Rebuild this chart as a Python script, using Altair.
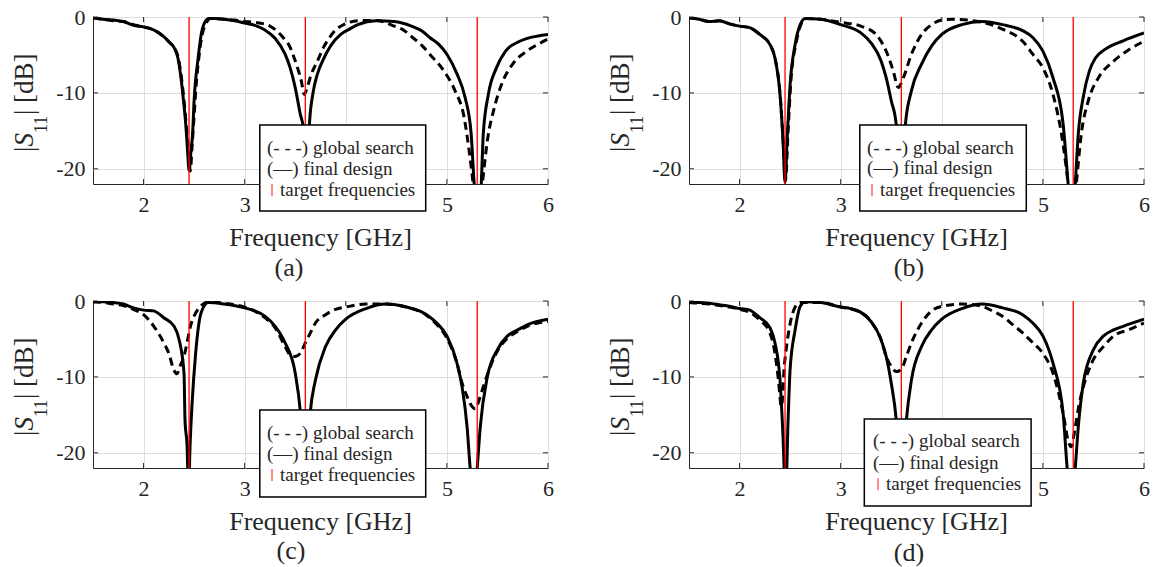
import altair as alt
import pandas as pd

# ---------------- data ----------------
X_DOMAIN = [1.5, 6.0]
Y_DOMAIN = [-22, 0]
X_TICKS = [2, 3, 4, 5, 6]
Y_TICKS = [-20, -10, 0]
TARGET_GHZ = [2.45, 3.6, 5.3]
LEGEND_TEXT = ["(- - -) global search", "(\u2014) final design", "target frequencies"]
X_TITLE = "Frequency [GHz]"
Y_TITLE_PARTS = ["|", "S", "11", "| [dB]"]
CAPTIONS = ["(a)", "(b)", "(c)", "(d)"]

# panel (a)
A_FINAL_F = [1.5, 1.6, 1.7, 1.8, 1.9, 2.0, 2.1, 2.2, 2.26, 2.3, 2.34, 2.37, 2.395, 2.42, 2.435, 2.45, 2.47, 2.485, 2.5, 2.54, 2.57, 2.61, 2.645, 2.7, 2.8, 2.9, 3.0, 3.1, 3.2, 3.3, 3.4, 3.45, 3.5, 3.55, 3.58, 3.61, 3.64, 3.68, 3.72, 3.77, 3.85, 3.95, 4.05, 4.12, 4.3, 4.48, 4.65, 4.75, 4.83, 4.92, 5.0, 5.1, 5.18, 5.24, 5.27, 5.305, 5.34, 5.36, 5.41, 5.49, 5.58, 5.72, 5.9, 6.0]
A_FINAL_DB = [-0.1, -0.3, -0.4, -0.6, -1.1, -1.3, -1.7, -2.6, -3.4, -4.0, -5.4, -8.0, -11.0, -14.6, -17.6, -20.2, -17.5, -15.4, -11.0, -5.4, -2.3, -0.6, -0.2, -0.2, -0.3, -0.5, -0.8, -1.1, -1.7, -2.8, -4.9, -6.7, -9.3, -12.8, -14.6, -24.0, -14.2, -9.7, -7.5, -5.8, -3.8, -2.3, -1.5, -1.0, -0.5, -0.6, -1.2, -1.8, -2.7, -3.6, -4.9, -7.5, -10.6, -15.4, -22.0, -27.0, -22.0, -15.4, -10.2, -6.7, -4.5, -3.2, -2.5, -2.3]
A_SEARCH_F = [1.5, 1.6, 1.7, 1.8, 1.9, 2.0, 2.1, 2.2, 2.26, 2.3, 2.34, 2.37, 2.4, 2.425, 2.445, 2.462, 2.48, 2.5, 2.52, 2.55, 2.58, 2.62, 2.66, 2.8, 2.9, 3.0, 3.1, 3.25, 3.38, 3.45, 3.49, 3.53, 3.56, 3.59, 3.62, 3.66, 3.72, 3.78, 3.84, 3.9, 3.98, 4.12, 4.3, 4.48, 4.58, 4.66, 4.75, 4.83, 4.97, 5.08, 5.17, 5.22, 5.26, 5.3, 5.35, 5.4, 5.47, 5.54, 5.65, 5.79, 5.9, 6.0]
A_SEARCH_DB = [-0.1, -0.3, -0.5, -0.6, -1.0, -1.3, -1.7, -2.6, -3.4, -4.0, -5.2, -7.5, -11.0, -14.6, -17.8, -20.3, -17.0, -13.0, -9.0, -5.0, -2.3, -0.8, -0.2, -0.3, -0.4, -0.6, -0.7, -1.2, -2.7, -4.0, -5.4, -7.0, -8.4, -10.2, -9.2, -7.5, -5.8, -4.0, -2.7, -1.7, -1.0, -0.5, -0.45, -1.2, -1.8, -2.7, -3.7, -4.9, -7.1, -9.7, -13.2, -17.6, -22.0, -27.0, -22.0, -16.3, -11.9, -8.9, -6.2, -4.5, -3.6, -2.9]

# panel (b)
B_FINAL_F = [1.5, 1.6, 1.7, 1.8, 1.9, 2.0, 2.1, 2.2, 2.3, 2.35, 2.4, 2.43, 2.45, 2.47, 2.5, 2.55, 2.6, 2.65, 2.8, 3.0, 3.2, 3.3, 3.4, 3.45, 3.5, 3.55, 3.6, 3.64, 3.7, 3.8, 3.9, 4.0, 4.2, 4.4, 4.6, 4.8, 4.9, 5.0, 5.1, 5.2, 5.25, 5.285, 5.32, 5.35, 5.4, 5.46, 5.52, 5.61, 5.8, 6.0]
B_FINAL_DB = [-0.1, -0.3, -0.6, -0.5, -0.9, -1.2, -1.4, -2.3, -3.6, -5.4, -10.2, -16.3, -21.8, -16.3, -8.9, -3.6, -1.0, -0.2, -0.3, -1.0, -2.1, -3.4, -5.8, -8.0, -11.0, -14.2, -24.0, -14.2, -9.7, -6.2, -3.8, -2.3, -1.0, -0.6, -1.0, -1.8, -2.7, -4.5, -8.0, -14.1, -22.0, -27.0, -22.0, -15.4, -10.5, -7.1, -5.4, -4.3, -3.1, -2.1]
B_SEARCH_F = [1.5, 1.6, 1.7, 1.8, 1.9, 2.0, 2.1, 2.2, 2.3, 2.35, 2.4, 2.43, 2.455, 2.48, 2.51, 2.56, 2.6, 2.66, 2.8, 3.0, 3.2, 3.35, 3.45, 3.52, 3.57, 3.62, 3.7, 3.8, 3.9, 4.0, 4.1, 4.4, 4.6, 4.8, 4.9, 5.0, 5.1, 5.2, 5.25, 5.29, 5.33, 5.38, 5.45, 5.55, 5.7, 5.85, 6.0]
B_SEARCH_DB = [-0.1, -0.3, -0.6, -0.5, -0.9, -1.2, -1.4, -2.3, -3.6, -5.4, -10.0, -16.0, -21.5, -15.0, -8.0, -3.4, -1.2, -0.2, -0.3, -0.7, -1.2, -2.3, -4.5, -7.1, -9.3, -8.0, -4.9, -2.3, -1.0, -0.4, -0.3, -0.7, -1.6, -3.2, -4.9, -6.7, -10.2, -16.8, -22.0, -27.0, -22.0, -15.4, -11.0, -8.0, -5.8, -4.3, -3.2]

# panel (c)
C_FINAL_F = [1.5, 1.6, 1.7, 1.8, 1.9, 2.0, 2.1, 2.2, 2.3, 2.35, 2.4, 2.41, 2.43, 2.445, 2.46, 2.48, 2.515, 2.57, 2.64, 2.8, 3.0, 3.2, 3.3, 3.4, 3.5, 3.55, 3.6, 3.65, 3.7, 3.8, 3.9, 4.0, 4.2, 4.4, 4.6, 4.8, 4.9, 5.0, 5.1, 5.15, 5.2, 5.23, 5.27, 5.3, 5.33, 5.4, 5.5, 5.6, 5.7, 5.8, 6.0]
C_FINAL_DB = [-0.1, -0.1, -0.2, -0.4, -0.9, -1.2, -1.3, -2.2, -3.3, -5.0, -9.5, -15.7, -19.0, -25.0, -19.0, -13.5, -6.9, -1.5, -0.2, -0.4, -0.9, -2.0, -3.3, -5.5, -9.5, -14.5, -25.0, -14.5, -10.4, -6.0, -3.8, -2.4, -1.0, -0.4, -0.8, -1.8, -2.9, -4.6, -8.2, -11.3, -16.6, -22.0, -27.0, -22.0, -16.6, -10.0, -6.4, -4.6, -3.8, -3.1, -2.4]
C_SEARCH_F = [1.5, 1.6, 1.7, 1.8, 1.9, 2.0, 2.1, 2.2, 2.25, 2.3, 2.33, 2.36, 2.4, 2.43, 2.46, 2.5, 2.55, 2.6, 2.65, 2.8, 3.0, 3.2, 3.3, 3.4, 3.45, 3.5, 3.55, 3.6, 3.65, 3.7, 3.8, 3.9, 4.0, 4.2, 4.4, 4.6, 4.8, 4.9, 5.0, 5.1, 5.15, 5.2, 5.23, 5.28, 5.32, 5.36, 5.4, 5.5, 5.6, 5.7, 5.8, 6.0]
C_SEARCH_DB = [-0.1, -0.2, -0.4, -0.6, -1.1, -1.8, -3.3, -5.5, -6.9, -9.1, -9.6, -8.6, -7.3, -5.5, -3.5, -2.0, -0.9, -0.3, -0.1, -0.3, -0.8, -2.2, -3.5, -6.0, -7.1, -7.3, -6.9, -5.5, -4.2, -2.9, -1.8, -1.1, -0.8, -0.4, -0.4, -0.8, -1.9, -3.1, -4.9, -8.2, -10.8, -12.6, -13.5, -14.2, -13.0, -11.3, -9.7, -6.6, -4.9, -4.0, -3.3, -2.7]

# panel (d)
D_FINAL_F = [1.5, 1.6, 1.7, 1.8, 1.9, 2.0, 2.1, 2.2, 2.3, 2.35, 2.4, 2.43, 2.455, 2.48, 2.5, 2.55, 2.6, 2.65, 2.8, 3.0, 3.1, 3.2, 3.3, 3.4, 3.45, 3.5, 3.55, 3.6, 3.65, 3.7, 3.8, 3.9, 4.0, 4.2, 4.4, 4.6, 4.8, 4.9, 5.0, 5.1, 5.2, 5.24, 5.28, 5.32, 5.35, 5.4, 5.5, 5.6, 5.7, 5.8, 6.0]
D_FINAL_DB = [-0.2, -0.2, -0.3, -0.5, -0.7, -1.0, -1.2, -2.2, -3.5, -5.5, -10.4, -17.9, -26.0, -15.7, -9.0, -3.8, -0.7, -0.1, -0.2, -0.8, -1.0, -1.5, -2.7, -5.1, -7.3, -10.8, -15.7, -26.0, -15.7, -10.4, -6.0, -3.8, -2.4, -1.0, -0.4, -0.9, -1.8, -2.9, -4.6, -8.2, -14.8, -22.0, -27.0, -22.0, -16.6, -10.8, -6.4, -4.6, -3.8, -3.3, -2.4]
D_SEARCH_F = [1.5, 1.6, 1.7, 1.8, 1.9, 2.0, 2.1, 2.2, 2.3, 2.35, 2.38, 2.4, 2.41, 2.42, 2.44, 2.46, 2.5, 2.55, 2.6, 2.8, 3.0, 3.2, 3.3, 3.4, 3.45, 3.5, 3.55, 3.6, 3.65, 3.7, 3.8, 3.9, 4.0, 4.2, 4.4, 4.5, 4.6, 4.7, 4.8, 4.9, 5.0, 5.1, 5.2, 5.25, 5.28, 5.32, 5.36, 5.4, 5.5, 5.6, 5.7, 5.85, 6.0]
D_SEARCH_DB = [-0.2, -0.3, -0.4, -0.6, -0.8, -1.1, -1.5, -2.5, -4.2, -6.9, -9.9, -12.6, -13.9, -13.5, -9.0, -6.5, -3.0, -0.8, -0.2, -0.2, -0.8, -1.5, -2.7, -5.1, -7.3, -8.6, -9.3, -9.0, -7.3, -5.5, -2.9, -1.3, -0.7, -0.4, -0.7, -1.3, -2.0, -3.1, -4.2, -5.5, -6.9, -9.5, -14.8, -18.4, -19.2, -16.6, -13.5, -11.3, -7.7, -6.0, -4.6, -3.8, -2.9]

# ---------------- styling ----------------
W, H = 455, 167
FONT = "Liberation Serif"
INK = "#262626"
TICK_FS = 22
TITLE_FS = 26
LEG_FS = 19
TICK_LEN = 5


def text_layer(s, x, y, size, align="left", baseline="middle", **kw):
    return alt.Chart(pd.DataFrame({"t": [s]})).mark_text(
        align=align, baseline=baseline, font=FONT, fontSize=size, color=INK, **kw
    ).encode(x=alt.value(x), y=alt.value(y), text="t:N")


def panel(final_f, final_db, search_f, search_db, caption, cap_x, cap_y,
          box, text_x, rows_y, anchor=False):
    xs = alt.Scale(domain=X_DOMAIN, nice=False, zero=False)
    ys = alt.Scale(domain=Y_DOMAIN, nice=False, zero=False)
    # the "4" label is hidden behind the legend box in the reference
    xa = alt.Axis(values=X_TICKS, title=None, grid=True, domain=False, ticks=False,
                  tickSize=0, labelPadding=10, labelFont=FONT, labelFontSize=TICK_FS,
                  labelColor=INK, gridColor="#dedede", gridWidth=1, labelFlush=False,
                  labelExpr="datum.value == 4 ? '' : '' + datum.value")
    ya = alt.Axis(values=Y_TICKS, title=None, grid=True, domain=False, ticks=False,
                  tickSize=0, labelPadding=8, labelFont=FONT, labelFontSize=TICK_FS,
                  labelColor=INK, gridColor="#dedede", gridWidth=1, labelFlush=False,
                  labelExpr="'' + datum.value")
    search = pd.DataFrame({"f": search_f, "db": search_db})
    final = pd.DataFrame({"f": final_f, "db": final_db})
    l_search = alt.Chart(search).mark_line(
        clip=True, color="black", strokeWidth=3, strokeDash=[8, 5], interpolate="monotone"
    ).encode(x=alt.X("f:Q", scale=xs, axis=xa), y=alt.Y("db:Q", scale=ys, axis=ya))
    l_final = alt.Chart(final).mark_line(
        clip=True, color="black", strokeWidth=3, interpolate="monotone"
    ).encode(x=alt.X("f:Q", scale=xs), y=alt.Y("db:Q", scale=ys))

    # inward ticks (MATLAB style) on all four sides
    xt_df = pd.DataFrame({"f": X_TICKS})
    yt_df = pd.DataFrame({"db": Y_TICKS})
    tick_kw = dict(color=INK, strokeWidth=1)
    tk_bot = alt.Chart(xt_df).mark_rule(**tick_kw).encode(
        x=alt.X("f:Q", scale=xs), y=alt.value(H), y2=alt.value(H - TICK_LEN))
    tk_top = alt.Chart(xt_df).mark_rule(**tick_kw).encode(
        x=alt.X("f:Q", scale=xs), y=alt.value(0), y2=alt.value(TICK_LEN))
    tk_left = alt.Chart(yt_df).mark_rule(**tick_kw).encode(
        y=alt.Y("db:Q", scale=ys), x=alt.value(0), x2=alt.value(TICK_LEN))
    tk_right = alt.Chart(yt_df).mark_rule(**tick_kw).encode(
        y=alt.Y("db:Q", scale=ys), x=alt.value(W), x2=alt.value(W - TICK_LEN))

    targets = alt.Chart(pd.DataFrame({"f": TARGET_GHZ})).mark_rule(
        color="#ff0000", strokeWidth=1.3
    ).encode(x=alt.X("f:Q", scale=xs), y=alt.value(0), y2=alt.value(H))

    x0, x1, y0, y1 = box
    leg_box = alt.Chart(pd.DataFrame({"k": [0]})).mark_rect(
        fill="white", stroke="black", strokeWidth=1.5
    ).encode(x=alt.value(x0), x2=alt.value(x1), y=alt.value(y0), y2=alt.value(y1))
    leg_bar = alt.Chart(pd.DataFrame({"k": [0]})).mark_rule(
        color="#ff6666", strokeWidth=1.5
    ).encode(x=alt.value(text_x + 5), y=alt.value(rows_y[2] - 6), y2=alt.value(rows_y[2] + 6))
    leg1 = text_layer(LEGEND_TEXT[0], text_x, rows_y[0], LEG_FS)
    leg2 = text_layer(LEGEND_TEXT[1], text_x, rows_y[1], LEG_FS)
    leg3 = text_layer(LEGEND_TEXT[2], text_x + 13, rows_y[2], LEG_FS)

    xt = text_layer(X_TITLE, W / 2, 220.5, TITLE_FS, align="center")
    cap = text_layer(caption, cap_x, cap_y, TITLE_FS, align="center")

    yt1 = text_layer(Y_TITLE_PARTS[0], -60, 135, 27, baseline="alphabetic", angle=270)
    yt2 = text_layer(Y_TITLE_PARTS[1], -60, 129.6, 27, baseline="alphabetic", angle=270,
                     fontStyle="italic")
    yt3 = text_layer(Y_TITLE_PARTS[2], -46, 116.1, 18, baseline="alphabetic", angle=270)
    yt4 = text_layer(Y_TITLE_PARTS[3], -60, 98.1, 27, baseline="alphabetic", angle=270)

    layers = [l_search, l_final, tk_bot, tk_top, tk_left, tk_right, targets,
              leg_box, leg_bar, leg1, leg2, leg3, xt, cap, yt1, yt2, yt3, yt4]
    if anchor:
        layers.append(alt.Chart(pd.DataFrame({"k": [0]})).mark_rect(opacity=0).encode(
            x=alt.value(-92), x2=alt.value(-91), y=alt.value(-16), y2=alt.value(-15)))
    return alt.layer(*layers).properties(width=W, height=H)


pa = panel(A_FINAL_F, A_FINAL_DB, A_SEARCH_F, A_SEARCH_DB, CAPTIONS[0], 196, 250.7,
           (166.8, 332.7, 108, 194), 174, [130.7, 152, 173], anchor=True)
pb = panel(B_FINAL_F, B_FINAL_DB, B_SEARCH_F, B_SEARCH_DB, CAPTIONS[1], 220, 250.7,
           (170.8, 337.3, 108, 194), 178, [130.7, 151, 173])
pc = panel(C_FINAL_F, C_FINAL_DB, C_SEARCH_F, C_SEARCH_DB, CAPTIONS[2], 198, 250,
           (166.8, 332.7, 109, 196), 174, [131.7, 152.7, 174])
pd_ = panel(D_FINAL_F, D_FINAL_DB, D_SEARCH_F, D_SEARCH_DB, CAPTIONS[3], 220, 251.7,
            (175.3, 342.1, 118, 205), 184, [140, 161.7, 183.3])

chart = alt.concat(pa, pb, pc, pd_, columns=2,
                   spacing={"row": 117, "column": 141}, bounds="flush").properties(
    padding={"left": 0, "top": 0, "right": 6, "bottom": 0},
    background="white",
).configure_view(stroke=INK, strokeWidth=1)

chart.save("out.html", embed_options={"renderer": "svg", "actions": False})
